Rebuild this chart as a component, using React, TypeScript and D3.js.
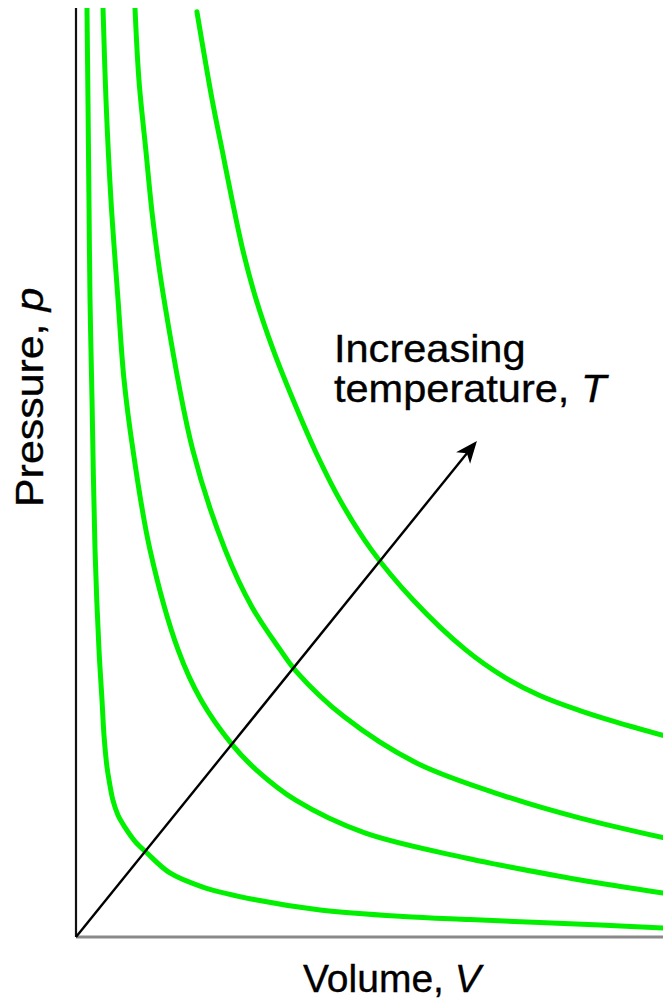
import React, { useRef, useEffect } from 'react';
import * as d3 from 'd3';

// Isotherms: volume V (0-10) and pressure p (0-10)
const isoLow = [
  [0.187, 10.0], [0.204, 9.01], [0.221, 7.93], [0.239, 6.86], [0.273, 5.78], [0.324, 4.17],
  [0.392, 3.09], [0.443, 2.55], [0.477, 2.17], [0.528, 1.83], [0.571, 1.66], [0.63, 1.47],
  [0.716, 1.31], [0.835, 1.18], [1.005, 1.03], [1.21, 0.904], [1.6, 0.689], [2.16, 0.538],
  [3.08, 0.398], [4.16, 0.291], [5.57, 0.221], [6.71, 0.188], [7.9, 0.156], [8.93, 0.129],
  [10.0, 0.097],
];
const isoMid1 = [
  [0.46, 10.0], [0.511, 9.01], [0.596, 7.93], [0.716, 6.86], [0.818, 6.0], [0.971, 5.24],
  [1.26, 4.17], [1.74, 3.09], [2.13, 2.55], [2.66, 2.07], [3.07, 1.8], [3.75, 1.47],
  [4.92, 1.12], [6.64, 0.85], [7.22, 0.775], [8.59, 0.614], [10.0, 0.474],
];
const isoMid2 = [
  [1.005, 10.0], [1.073, 9.22], [1.19, 8.47], [1.31, 7.72], [1.5, 6.86], [1.99, 5.24],
  [2.54, 4.17], [3.0, 3.55], [3.48, 3.09], [3.75, 2.86], [4.57, 2.37], [5.81, 1.87],
  [7.39, 1.5], [8.59, 1.28], [10.0, 1.07],
];
const isoHigh = [
  [2.06, 9.96], [2.32, 9.01], [2.49, 8.47], [2.66, 7.93], [2.84, 7.4], [3.07, 6.86],
  [3.36, 6.32], [3.7, 5.78], [4.07, 5.24], [4.5, 4.7], [5.03, 4.17], [5.74, 3.63],
  [6.64, 3.09], [7.29, 2.8], [7.9, 2.6], [8.57, 2.44], [9.22, 2.31], [10.0, 2.17],
];
const isotherms = [isoLow, isoMid1, isoMid2, isoHigh];

// "Increasing temperature" arrow, from the origin
const arrowStart = [0, 0];
const arrowEnd = [6.83, 5.34];

const App = () => {
  const svgRef = useRef(null);

  useEffect(() => {
    const svg = d3.select(svgRef.current);
    svg.selectAll('*').remove();

    const left = 76, right = 663, top = 8, bottom = 937;
    const x = d3.scaleLinear().domain([0, 10]).range([left, right]);
    const y = d3.scaleLinear().domain([0, 10]).range([bottom, top]);

    svg.append('clipPath').attr('id', 'plot')
      .append('rect')
      .attr('x', left).attr('y', top)
      .attr('width', right - left).attr('height', bottom - top + 4);

    // y axis
    svg.append('line')
      .attr('x1', left).attr('x2', left)
      .attr('y1', top).attr('y2', bottom)
      .attr('stroke', '#111').attr('stroke-width', 2.2);

    // x axis (grey)
    svg.append('line')
      .attr('x1', left).attr('x2', right)
      .attr('y1', bottom).attr('y2', bottom)
      .attr('stroke', '#8a8a8a').attr('stroke-width', 3);

    const line = d3.line()
      .x(d => x(d[0]))
      .y(d => y(d[1]))
      .curve(d3.curveCatmullRom.alpha(0.5));

    svg.append('g').attr('clip-path', 'url(#plot)')
      .selectAll('path')
      .data(isotherms)
      .join('path')
      .attr('d', d => line(d))
      .attr('fill', 'none')
      .attr('stroke', '#00f000')
      .attr('stroke-width', 5)
      .attr('stroke-linecap', 'round');

    // arrow
    const x0 = x(arrowStart[0]), y0 = y(arrowStart[1]);
    const x1 = x(arrowEnd[0]), y1 = y(arrowEnd[1]);
    const ang = Math.atan2(y1 - y0, x1 - x0);
    const headLen = 22, headW = 9, notch = 6;
    const ux = Math.cos(ang), uy = Math.sin(ang);
    const px = -uy, py = ux;
    const bx = x1 - ux * headLen, by = y1 - uy * headLen;
    svg.append('line')
      .attr('x1', x0).attr('y1', y0)
      .attr('x2', x1 - ux * 12).attr('y2', y1 - uy * 12)
      .attr('stroke', '#000').attr('stroke-width', 2.4);
    svg.append('path')
      .attr('d', `M${x1},${y1}L${bx + px * headW},${by + py * headW}L${x1 - ux * (headLen - notch)},${y1 - uy * (headLen - notch)}L${bx - px * headW},${by - py * headW}Z`)
      .attr('fill', '#000');

    const font = 'Liberation Sans, Arial, Helvetica, sans-serif';
    const textStyle = sel => sel
      .attr('font-family', font).attr('font-size', 39)
      .attr('fill', '#000').attr('stroke', '#000').attr('stroke-width', 0.35);

    const ann = svg.append('text')
      .attr('transform', 'translate(334,0) scale(1.065,1)')
      .call(textStyle);
    ann.append('tspan').attr('x', 0).attr('y', 362).text('Increasing');
    const l2 = ann.append('tspan').attr('x', 0).attr('y', 402);
    l2.append('tspan').text('temperature, ');
    l2.append('tspan').attr('font-style', 'italic').text('T');

    const xl = svg.append('text')
      .attr('transform', 'translate(303,992)')
      .call(textStyle);
    xl.append('tspan').text('Volume, ');
    xl.append('tspan').attr('font-style', 'italic').text('V');

    const yl = svg.append('text')
      .attr('transform', 'translate(43,507) rotate(-90) scale(1.1,1)')
      .call(textStyle);
    yl.append('tspan').text('Pressure, ');
    yl.append('tspan').attr('font-style', 'italic').text('p');
  }, []);

  return (
    <svg ref={svgRef} width="663" height="1000"
      style={{ position: 'absolute', left: 0, top: 0, background: '#fff' }}></svg>
  );
};

export default App;
